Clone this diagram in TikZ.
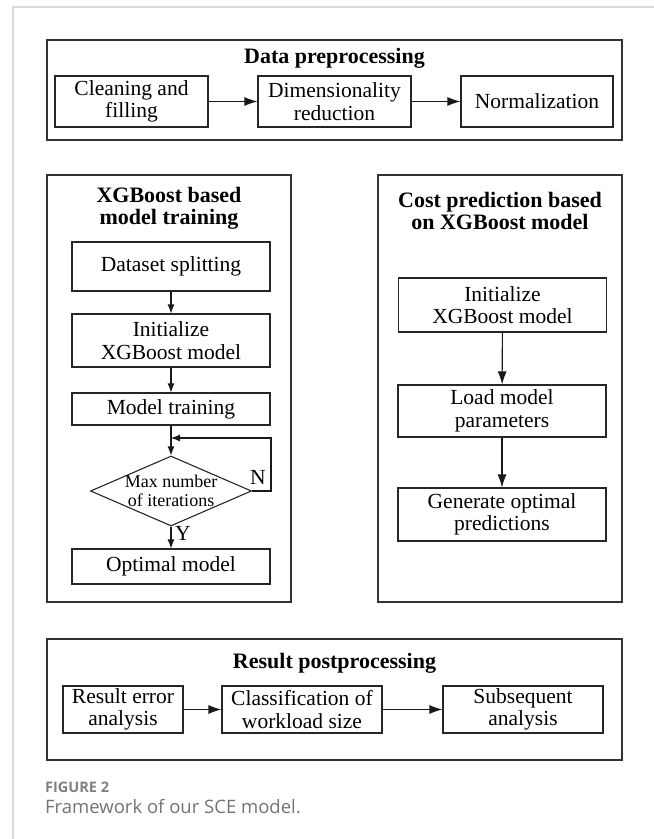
\documentclass[tikz,border=0pt]{standalone}
\usepackage{fontspec}
\setmainfont{Liberation Serif}
\newfontfamily\capfont{Open Sans}
\usetikzlibrary{shapes,arrows,arrows.meta}
\tikzstyle{line} = [draw, black!90, line width=1.1pt, -{Latex[length=13pt,width=9pt]}]
\tikzstyle{line_s} = [draw, black!90, line width=1.1pt, -{Latex[length=9pt,width=7pt]}]
\tikzstyle{stage} = [rectangle, draw=black!80, line width=1.4pt, inner sep=0pt]
\tikzstyle{stage_title} = [font=\fontsize{22}{22}\selectfont\bfseries, align=center]
\tikzstyle{proc} = [rectangle, draw=black!85, line width=1.1pt, align=center, inner sep=0pt, font=\fontsize{21.5}{22.5}\selectfont]
\tikzstyle{decision} = [diamond, draw=black!85, line width=1.1pt, minimum width=161pt, minimum height=70pt, inner sep=0pt]

\begin{document}
\begin{tikzpicture}[x=1pt, y=-1pt]
		\useasboundingbox (0,0) rectangle (654,839);
		\draw [gray!30, line width=1.5pt] (654,7) -- (13,7) -- (13,839);
		
		% data preprocessing
		\node[stage, minimum width=575pt, minimum height=100pt] (pre) at (334.5,90) {};
		\node[stage_title] (pre_title) at (334.5,58) {Data preprocessing};
		\node[proc, minimum width=153pt, minimum height=51pt] (pre_clean) at (131.5,101.5) {Cleaning and\\filling};
		\node[proc, minimum width=153pt, minimum height=51pt] (pre_dim) at (334.5,101.5) {Dimensionality\\reduction};
		\node[proc, minimum width=152pt, minimum height=51pt] (pre_norm) at (537,101.5) {Normalization};
		\path [line] (pre_clean) to (pre_dim);
		\path [line] (pre_dim) to (pre_norm);
		
		% model training
		\node[stage, minimum width=244pt, minimum height=427pt] (train) at (169,388.5) {};
		\node[stage_title] (train_title) at (169,208) {XGBoost based\\model training};
		\node[proc, minimum width=198pt, minimum height=49pt] (train_split) at (171,266.5) {Dataset splitting};
		\node[proc, minimum width=198pt, minimum height=53pt] (train_init) at (171,340.5) {Initialize\\XGBoost model};
		\node[proc, minimum width=198pt, minimum height=32pt] (train_fit) at (171,409) {Model training};
		\node[decision] (train_iter) at (171,491) {};
		\node[align=center, font=\fontsize{18}{19}\selectfont] (train_iter_txt) at (train_iter) {Max number\\of iterations};
		\node[proc, minimum width=198pt, minimum height=35pt] (train_best) at (171,566.5) {Optimal model};
		\coordinate (loop_out) at (271,491);
		\coordinate (loop_in) at (171,438);
		\path [line_s] (train_split) to (train_init);
		\path [line_s] (train_init) to (train_fit);
		\path [line_s] (train_fit) to (train_iter);
		\path [line_s] (train_iter) to (train_best);
		\path [line_s] (train_iter.east) -- (loop_out) |- (loop_in);
		\node[font=\fontsize{21.5}{22}\selectfont] (lbl_n) at (258,477) {N};
		\node[font=\fontsize{21.5}{22}\selectfont] (lbl_y) at (183,533) {Y};
		
		% cost prediction
		\node[stage, minimum width=244pt, minimum height=427pt] (pred) at (500,388.5) {};
		\node[stage_title] (pred_title) at (500,211) {Cost prediction based\\on XGBoost model};
		\node[proc, minimum width=208pt, minimum height=54pt] (pred_init) at (502.5,305) {Initialize\\XGBoost model};
		\node[proc, minimum width=208pt, minimum height=52pt] (pred_load) at (502,411) {Load model\\parameters};
		\node[proc, minimum width=208pt, minimum height=53pt] (pred_gen) at (502,514.5) {Generate optimal\\predictions};
		\path [line] (pred_init) to (pred_load);
		\path [line] (pred_load) to (pred_gen);
		
		% result postprocessing
		\node[stage, minimum width=575pt, minimum height=121pt] (post) at (334.5,699.5) {};
		\node[stage_title] (post_title) at (334.5,663) {Result postprocessing};
		\node[proc, minimum width=120pt, minimum height=47pt] (post_err) at (123,709.5) {Result error\\analysis};
		\node[proc, minimum width=160pt, minimum height=47pt] (post_cls) at (302,709.5) {Classification of\\workload size};
		\node[proc, minimum width=160pt, minimum height=47pt] (post_sub) at (523,709.5) {Subsequent\\analysis};
		\path [line] (post_err) to (post_cls);
		\path [line] (post_cls) to (post_sub);
		
		\node[anchor=west, inner sep=0pt, text=black!50, font=\capfont\fontsize{14.5}{16}\selectfont\bfseries] (fig_no) at (45,787) {FIGURE 2};
		\node[anchor=west, inner sep=0pt, text=black!55, font=\capfont\fontsize{18.5}{20}\selectfont] (fig_cap) at (45,807) {Framework of our SCE model.};
\end{tikzpicture}
\end{document}
